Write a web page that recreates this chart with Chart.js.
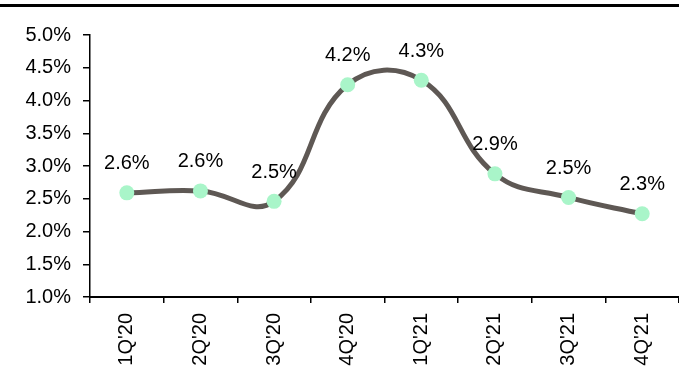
<!DOCTYPE html>
<html>
<head>
<meta charset="utf-8">
<script src="https://cdn.jsdelivr.net/npm/chart.js@4/dist/chart.umd.min.js"></script>
<style>
  html, body { margin: 0; padding: 0; background: #ffffff; }
  #wrap { width: 679px; height: 367px; position: relative; }
</style>
</head>
<body>
<div id="wrap"><canvas id="chart" width="679" height="367"></canvas></div>
<script>
// Quarterly rate, in percent
const quarters = ["1Q'20", "2Q'20", "3Q'20", "4Q'20", "1Q'21", "2Q'21", "3Q'21", "4Q'21"];
const rates = [2.59, 2.62, 2.46, 4.24, 4.31, 2.88, 2.52, 2.27];
const yTicks = [1.0, 1.5, 2.0, 2.5, 3.0, 3.5, 4.0, 4.5, 5.0];

const FONT = "'Liberation Sans', Arial, sans-serif";
const FONT_SIZE = 20;

// Value labels above each point
const valueLabels = {
  id: 'valueLabels',
  afterDatasetsDraw(chart) {
    const ctx = chart.ctx;
    const meta = chart.getDatasetMeta(0);
    ctx.save();
    ctx.font = FONT_SIZE + 'px ' + FONT;
    ctx.fillStyle = '#000000';
    ctx.textAlign = 'center';
    ctx.textBaseline = 'middle';
    meta.data.forEach((pt, i) => {
      ctx.fillText(rates[i].toFixed(1) + '%', pt.x, pt.y - 29);
    });
    ctx.restore();
  }
};

// Rule across the top of the figure
const topRule = {
  id: 'topRule',
  beforeDraw(chart) {
    const ctx = chart.ctx;
    ctx.save();
    ctx.fillStyle = '#000000';
    ctx.fillRect(0, 4, chart.width, 3);
    ctx.restore();
  }
};

new Chart(document.getElementById('chart'), {
  type: 'line',
  data: {
    labels: quarters,
    datasets: [{
      data: rates,
      borderColor: '#5e5854',
      borderWidth: 5,
      tension: 0.43,
      pointRadius: 7.5,
      pointHoverRadius: 7.5,
      pointBackgroundColor: '#a9f5c9',
      pointBorderWidth: 0,
      clip: false
    }]
  },
  options: {
    responsive: false,
    animation: false,
    events: [],
    layout: { autoPadding: false, padding: { top: 35, right: 0, left: 0, bottom: 0 } },
    plugins: { legend: { display: false }, tooltip: { enabled: false } },
    scales: {
      x: {
        type: 'category',
        offset: true,
        position: 'bottom',
        grid: { display: true, offset: true, drawOnChartArea: false, drawTicks: true, tickLength: 6, color: '#000000', lineWidth: 1.5 },
        border: { display: true, color: '#000000', width: 2 },
        ticks: { minRotation: 90, maxRotation: 90, autoSkip: false, padding: 10, color: '#000000', font: { family: FONT, size: FONT_SIZE } },
        afterFit(scale) {
          scale.height = 70;
          scale.paddingLeft = 0;
          scale.paddingRight = 0;
        }
      },
      y: {
        type: 'linear',
        min: 1,
        max: 5,
        afterBuildTicks(scale) { scale.ticks = yTicks.map(v => ({ value: v })); },
        grid: { drawOnChartArea: false, drawTicks: true, tickLength: 7, color: '#000000', lineWidth: 1.5 },
        border: { display: true, color: '#000000', width: 1.5 },
        ticks: {
          padding: 12,
          color: '#000000',
          font: { family: FONT, size: FONT_SIZE },
          callback: v => Number(v).toFixed(1) + '%'
        },
        afterFit(scale) { scale.width = 90; }
      }
    }
  },
  plugins: [topRule, valueLabels]
});
</script>
</body>
</html>
